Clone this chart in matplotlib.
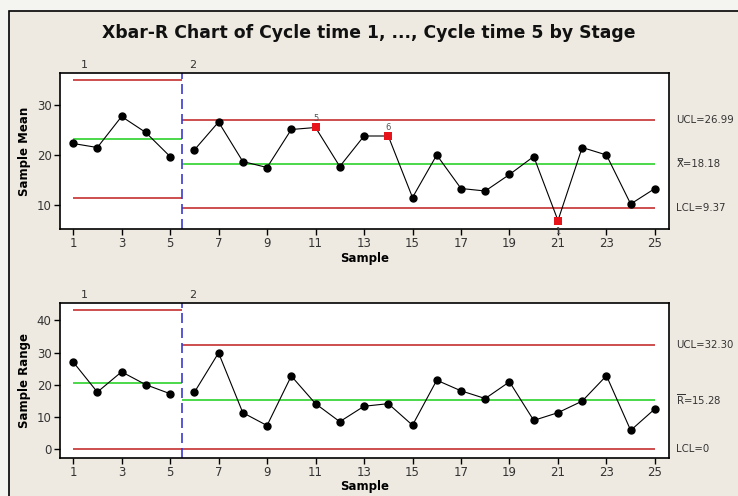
import matplotlib.pyplot as plt
from matplotlib.patches import Rectangle
import matplotlib.transforms as mtransforms

# Subgroup numbers and stage assignment
samples = list(range(1, 26))
stage_break = 5.5

# Subgroup means
means = [22.3, 21.5, 27.7, 24.5, 19.7,
         21.0, 26.6, 18.7, 17.5, 25.1, 25.5, 17.7, 23.8, 23.8, 11.5,
         20.0, 13.3, 12.8, 16.1, 19.7, 6.9, 21.5, 20.0, 10.2, 13.3]

# Subgroup ranges
ranges = [27.1, 17.7, 24.0, 20.0, 17.2,
          17.6, 29.9, 11.3, 7.3, 22.7, 14.1, 8.5, 13.3, 14.1, 7.4,
          21.4, 18.1, 15.7, 20.9, 8.9, 11.3, 14.9, 22.8, 5.8, 12.5]

# Control limits per stage: (UCL, CL, LCL)
xbar_limits_s1 = (34.9, 23.2, 11.5)
xbar_limits_s2 = (26.99, 18.18, 9.37)
r_limits_s1 = (43.1, 20.4, 0.0)
r_limits_s2 = (32.30, 15.28, 0.0)

# Flagged points (sample, test number)
xbar_flags = [(11, "5"), (14, "6"), (21, "1")]

RED = "#C8403F"
GREEN = "#3DD63D"
BLUE = "#3B3BD0"
BG = "#EEEAE1"
TXT = "#333333"

fig = plt.figure(figsize=(7.38, 4.96), dpi=100)
fig.patch.set_facecolor("#F4F5F0")
frame = Rectangle((9 / 738, -0.1), 1.2, 1 - 11 / 496 + 0.1,
                  transform=fig.transFigure, facecolor=BG,
                  edgecolor="black", linewidth=1.2, zorder=-10)
fig.patches.append(frame)

fig.text(0.5, 1 - 33 / 496, "Xbar-R Chart of Cycle time 1, ..., Cycle time 5 by Stage",
         ha="center", va="center", fontsize=12.4, fontweight="bold",
         family="DejaVu Sans", color="#111111")

ax1 = fig.add_axes([60 / 738, 1 - 229 / 496, 609 / 738, 156 / 496])
ax2 = fig.add_axes([60 / 738, 1 - 457.7 / 496, 609 / 738, 155 / 496])


def draw_panel(ax, values, lim1, lim2, ylim, yticks, ylabel, right_labels, flags=()):
    ax.set_facecolor("white")
    # limit lines for each stage
    for lims, (xa, xb) in ((lim1, (1, stage_break)), (lim2, (stage_break, 25))):
        ax.hlines([lims[0], lims[2]], xa, xb, colors=RED, linewidth=1.3, zorder=2)
        ax.hlines(lims[1], xa, xb, colors=GREEN, linewidth=1.3, zorder=2)
    ax.axvline(stage_break, color=BLUE, linestyle=(0, (6, 3)), linewidth=1.2, zorder=2)

    # connecting lines, broken between stages
    ax.plot(samples[:5], values[:5], color="black", linewidth=0.8, zorder=3)
    ax.plot(samples[5:], values[5:], color="black", linewidth=0.8, zorder=3)

    flagged = [s for s, _ in flags]
    xs = [s for s in samples if s not in flagged]
    ax.plot(xs, [values[s - 1] for s in xs], linestyle="none", marker="o",
            color="black", markersize=5, zorder=4)

    for s, lab in flags:
        v = values[s - 1]
        ax.plot(s, v, marker="s", color="#E8141B", markersize=5.5,
                markeredgewidth=0, zorder=4)
        below = lab == "1"
        ax.text(s, v + (-1.3 if below else 0.9), lab, ha="center",
                va="top" if below else "bottom", fontsize=6, color="#555555")

    ax.set_xlim(0.46, 25.58)
    ax.set_ylim(*ylim)
    ax.set_xticks(range(1, 26, 2))
    ax.set_yticks(yticks)
    ax.tick_params(direction="out", length=4, width=1, labelsize=8.5,
                   labelcolor=TXT, pad=2)
    for sp in ax.spines.values():
        sp.set_linewidth(1.2)
    ax.set_xlabel("Sample", fontsize=8.5, fontweight="bold", labelpad=1)
    ax.set_ylabel(ylabel, fontsize=8.5, fontweight="bold", labelpad=4)

    # stage labels above the axes
    tr = mtransforms.blended_transform_factory(ax.transData, ax.transAxes)
    ax.text(1.45, 1.02, "1", transform=tr, ha="center", va="bottom",
            fontsize=8, color=TXT)
    ax.text(5.95, 1.02, "2", transform=tr, ha="center", va="bottom",
            fontsize=8, color=TXT)

    # stage 2 limit labels on the right
    tr2 = mtransforms.blended_transform_factory(ax.transAxes, ax.transData)
    for val, lab in zip(lim2, right_labels):
        ax.text(1.012, val, lab, transform=tr2, ha="left", va="center",
                fontsize=7.3, color=TXT, clip_on=False)


draw_panel(ax1, means, xbar_limits_s1, xbar_limits_s2, (5.2, 36.4), [10, 20, 30],
           "Sample Mean",
           ["UCL=26.99", "X\u033f=18.18", "LCL=9.37"],
           flags=xbar_flags)
draw_panel(ax2, ranges, r_limits_s1, r_limits_s2, (-2.7, 45.5), [0, 10, 20, 30, 40],
           "Sample Range",
           ["UCL=32.30", r"$\overline{\mathregular{R}}$=15.28", "LCL=0"])

fig.savefig("out.png", dpi=100, facecolor=fig.get_facecolor())
